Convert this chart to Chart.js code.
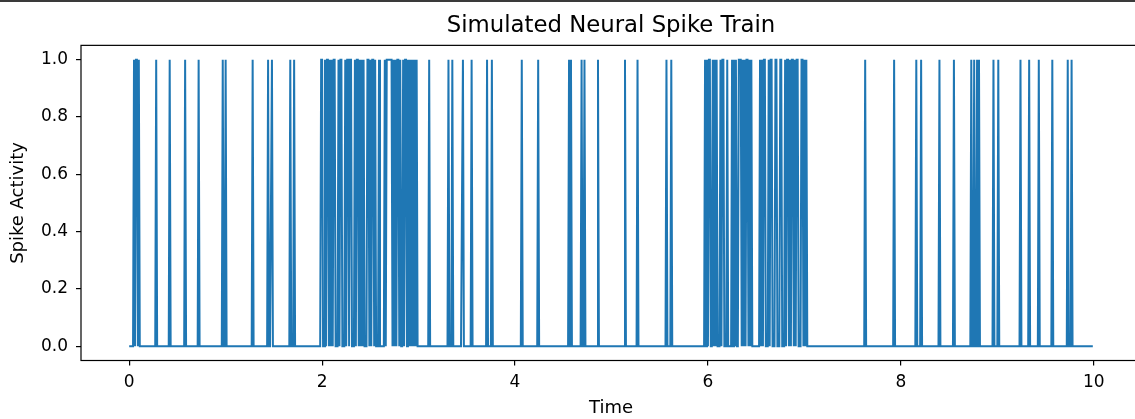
<!DOCTYPE html>
<html>
<head>
<meta charset="utf-8">
<script src="https://cdn.jsdelivr.net/npm/chart.js@4.4.1/dist/chart.umd.min.js"></script>
<style>
  html, body { margin: 0; padding: 0; background: #fff; overflow: hidden; }
  #frame { position: relative; width: 1135px; height: 419px; overflow: hidden; border-top: 2px solid #3a3a3a; box-sizing: border-box; }
  #spikes { position: absolute; left: 0; top: -2px; }
</style>
</head>
<body>
<div id="frame">
  <canvas id="spikes" width="1222" height="419"></canvas>
</div>
<script>
// ── Data ─────────────────────────────────────────────────────
// Sampling grid of the recording (seconds)
const SAMPLE_STEP = 0.01;
const SAMPLE_COUNT = 1000;

// Times (s) where the neuron is active (value 1)
const spikeTimes = [
  0.05, 0.07, 0.08, 0.10, 0.28, 0.42, 0.58, 0.72, 0.97, 1.00,
  1.28, 1.44, 1.48, 1.67, 1.71,
  // burst around 2 s
  1.99, 2.00, 2.03, 2.05, 2.06, 2.08, 2.10, 2.12, 2.13, 2.17,
  2.19, 2.20, 2.24, 2.26, 2.27, 2.29, 2.30, 2.34, 2.36, 2.37,
  2.39, 2.41, 2.43, 2.47, 2.48, 2.50, 2.52, 2.53, 2.55, 2.59,
  2.65, 2.67, 2.68, 2.69, 2.70, 2.71, 2.72,
  2.74, 2.76, 2.78, 2.79, 2.81, 2.84, 2.86, 2.87, 2.90,
  2.92, 2.94, 2.96, 2.98,
  3.11, 3.31, 3.35, 3.46, 3.55, 3.71, 3.76,
  4.07, 4.24, 4.56, 4.58, 4.69, 4.72, 4.86,
  5.14, 5.27, 5.57, 5.62,
  // burst between 6 and 7 s
  5.97, 5.99, 6.01, 6.02, 6.05, 6.07, 6.09, 6.13, 6.15, 6.16,
  6.20, 6.25, 6.27, 6.29, 6.32, 6.33, 6.34, 6.36, 6.38, 6.40,
  6.41, 6.43, 6.45, 6.54, 6.56, 6.58, 6.59, 6.63, 6.65, 6.66,
  6.70, 6.71, 6.75, 6.76, 6.80, 6.82, 6.83, 6.85, 6.87, 6.88,
  6.90, 6.92, 6.93, 6.97, 6.98, 7.00, 7.02,
  7.63, 7.93, 8.16, 8.21, 8.40, 8.55, 8.73, 8.76, 8.79, 8.81,
  8.96, 9.01, 9.24, 9.33, 9.43, 9.57, 9.73, 9.77
];

const xTicks = [0, 2, 4, 6, 8, 10];
const yTicks = [0.0, 0.2, 0.4, 0.6, 0.8, 1.0];

// ── Series ───────────────────────────────────────────────────
const activeIdx = new Set(spikeTimes.map(t => Math.round(t / SAMPLE_STEP)));
const train = [];
for (let i = 0; i < SAMPLE_COUNT; i++) {
  train.push({ x: i * SAMPLE_STEP, y: activeIdx.has(i) ? 1 : 0 });
}

// ── Helpers ──────────────────────────────────────────────────
const FONT = '"DejaVu Sans", Verdana, sans-serif';

// axes box (all four spines)
const frameBox = {
  id: 'frameBox',
  afterDraw(chart) {
    const { ctx, chartArea: a } = chart;
    ctx.save();
    ctx.strokeStyle = '#000';
    ctx.lineWidth = 1.2;
    ctx.strokeRect(a.left, a.top, a.right - a.left, a.bottom - a.top);
    ctx.restore();
  }
};

// ── Chart ────────────────────────────────────────────────────
new Chart(document.getElementById('spikes'), {
  type: 'line',
  data: {
    datasets: [{
      data: train,
      borderColor: '#1f77b4',
      borderWidth: 2,
      pointRadius: 0,
      tension: 0,
      fill: false
    }]
  },
  options: {
    responsive: false,
    animation: false,
    devicePixelRatio: 1,
    parsing: false,
    plugins: {
      legend: { display: false },
      tooltip: { enabled: false },
      title: {
        display: true,
        text: 'Simulated Neural Spike Train',
        color: '#000',
        font: { family: FONT, size: 22.8, weight: 'normal' },
        padding: { top: 12, bottom: 6 }
      }
    },
    scales: {
      x: {
        type: 'linear',
        min: -0.4995,
        max: 10.4895,
        afterBuildTicks: s => { s.ticks = xTicks.map(v => ({ value: v })); },
        afterFit: s => { s.height = 58.5; },
        ticks: {
          color: '#000',
          font: { family: FONT, size: 17 },
          padding: 7,
          maxRotation: 0,
          callback: v => String(v)
        },
        grid: { drawOnChartArea: false, drawTicks: true, tickLength: 5, color: '#000', lineWidth: 1.2 },
        border: { display: false },
        title: {
          display: true,
          text: 'Time',
          color: '#000',
          font: { family: FONT, size: 18 },
          padding: { top: 0, bottom: 0 }
        }
      },
      y: {
        type: 'linear',
        min: -0.05,
        max: 1.05,
        afterBuildTicks: s => { s.ticks = yTicks.map(v => ({ value: v })); },
        afterFit: s => { s.width = 81; },
        ticks: {
          color: '#000',
          font: { family: FONT, size: 17 },
          padding: 8,
          callback: v => v.toFixed(1)
        },
        grid: { drawOnChartArea: false, drawTicks: true, tickLength: 5, color: '#000', lineWidth: 1.2 },
        border: { display: false },
        title: {
          display: true,
          text: 'Spike Activity',
          color: '#000',
          font: { family: FONT, size: 18 },
          padding: { top: 8, bottom: 0 }
        }
      },
      // empty right margin so the title centres over the axes
      yRight: {
        position: 'right',
        display: true,
        afterFit: s => { s.width = 81; },
        ticks: { display: false },
        grid: { display: false },
        border: { display: false }
      }
    }
  },
  plugins: [frameBox]
});
</script>
</body>
</html>
